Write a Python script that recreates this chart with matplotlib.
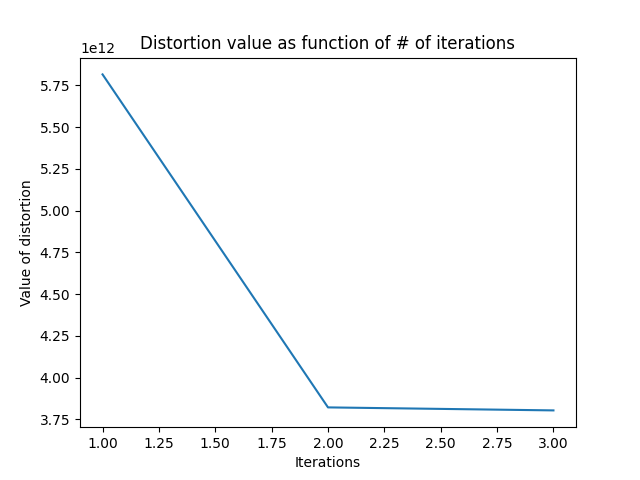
import matplotlib
matplotlib.use("Agg")
from matplotlib import pyplot as plt

iterations = [1, 2, 3]
distortion = [5.815e12, 3.822e12, 3.804e12]

plt.figure(figsize=(6.4, 4.8), dpi=100)
plt.plot(iterations, distortion)
plt.title("Distortion value as function of # of iterations")
plt.xlabel("Iterations")
plt.ylabel("Value of distortion")
plt.savefig("out.png")
